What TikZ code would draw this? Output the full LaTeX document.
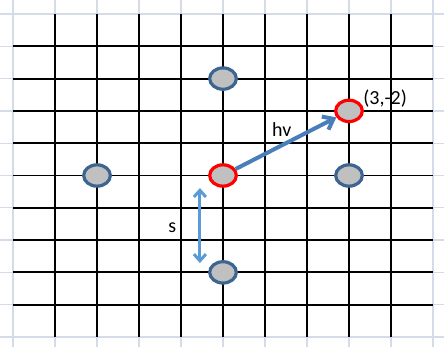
\documentclass[tikz,border=0pt]{standalone}
\usepackage{fontspec}
\setmainfont{Carlito}
\usepackage{xcolor}
\definecolor{cellline}{HTML}{D4DCEA}
\definecolor{pointfill}{HTML}{C0C0C0}
\definecolor{pointedge}{HTML}{3D6592}
\definecolor{hvblue}{HTML}{4A7EBB}
\definecolor{sblue}{HTML}{5B9BD5}
\usepackage{tikz}
\usetikzlibrary{arrows.meta, shapes.geometric}

\begin{document}
\begin{tikzpicture}[x=31.5pt, y=-24.225pt,
  site/.style={ellipse, draw=pointedge, fill=pointfill, line width=2.4pt,
    minimum width=20pt, minimum height=16pt, inner sep=0pt},
  hot/.style={site, draw=red},
  lbl/.style={font=\fontsize{15}{18}\selectfont}]
  \useasboundingbox (-0.31,-0.433) rectangle (10.262,10.31);
  % blatt-linien
  \foreach \i in {0,...,10} {
    \draw[cellline, line width=1pt] (\i,-0.433) -- (\i,10.31);
    \draw[cellline, line width=1pt] (-0.31,\i) -- (10.262,\i);
  }
  % gitter
  \foreach \i in {1,...,9} {
    \draw[line width=1.4pt] (\i,0) -- (\i,10);
    \draw[line width=1.4pt] (0,\i) -- (10,\i);
  }
  % nachbarn
  \node[site] (up) at (5,2) {};
  \node[site] (left) at (2,5) {};
  \node[site] (right) at (8,5) {};
  \node[site] (down) at (5,8) {};
  % mitte und ziel
  \node[hot] (mid) at (5,5) {};
  \node[hot] (goal) at (8,3) {};
  % vektoren
  \draw[hvblue, line width=3pt, -{Straight Barb[length=7pt, width=11pt]}] (mid) -- (goal);
  \coordinate (stop) at (4.45,5.39);
  \coordinate (sbot) at (4.45,7.71);
  \draw[sblue, line width=2.25pt,
    {Straight Barb[length=5pt, width=9pt]}-{Straight Barb[length=5pt, width=9pt]}] (stop) -- (sbot);
  % beschriftung
  \node[lbl] (hvlabel) at (6.40,3.59) {hv};
  \node[lbl] (slabel) at (3.79,6.63) {s};
  \node[lbl] (goallabel) at (8.86,2.63) {(3,-2)};
\end{tikzpicture}
\end{document}
